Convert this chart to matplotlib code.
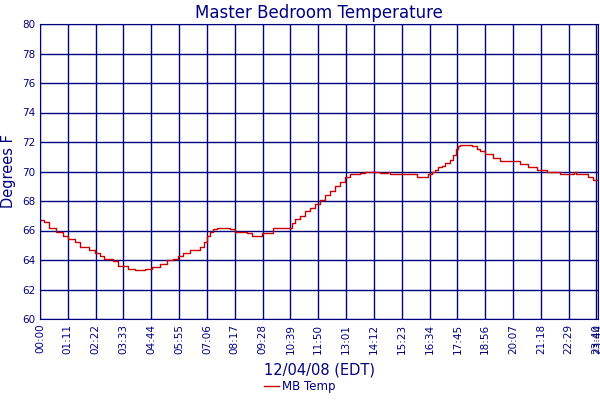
import matplotlib
matplotlib.use("Agg")
import matplotlib.pyplot as plt

minutes = [0,10,23,41,59,71,89,102,125,140,153,163,186,199,225,242,268,286,306,324,339,352,365,383,408,419,426,434,441,452,485,498,528,541,567,595,638,643,651,664,676,689,702,715,727,740,753,766,778,791,817,829,868,888,893,962,990,1000,1008,1016,1026,1034,1046,1054,1062,1067,1072,1102,1115,1123,1136,1156,1174,1225,1245,1268,1294,1327,1363,1368,1398,1411,1424]
temps = [66.7,66.6,66.2,65.9,65.6,65.4,65.2,64.9,64.7,64.5,64.3,64.1,63.9,63.6,63.4,63.3,63.4,63.5,63.7,64.0,64.1,64.3,64.5,64.7,64.9,65.2,65.6,65.9,66.1,66.2,66.1,65.9,65.8,65.6,65.8,66.2,66.2,66.5,66.8,67.0,67.3,67.5,67.8,68.1,68.4,68.7,69.0,69.3,69.6,69.8,69.9,70.0,69.9,70.0,69.8,69.6,69.8,70.0,70.1,70.3,70.4,70.6,70.8,71.1,71.5,71.7,71.8,71.7,71.5,71.4,71.2,70.9,70.7,70.5,70.3,70.1,70.0,69.8,70.0,69.8,69.6,69.4,69.4]
tick_minutes = [0,71,142,213,284,355,426,497,568,639,710,781,852,923,994,1065,1136,1207,1278,1349,1420,1424]
tick_labels = ["00:00","01:11","02:22","03:33","04:44","05:55","07:06","08:17","09:28","10:39","11:50","13:01","14:12","15:23","16:34","17:45","18:56","20:07","21:18","22:29","23:40","23:44"]

navy = "#000080"
fig = plt.figure(figsize=(6, 4), dpi=100)
ax = fig.add_axes([40/600, 1-319/400, 558/600, 295/400])
ax.step(minutes, temps, where="post", color="#cc0000", lw=1, label="MB Temp")
ax.set_xlim(0, 1424)
ax.set_ylim(60, 80)
ax.set_yticks(range(60, 81, 2))
ax.set_xticks(tick_minutes)
ax.set_xticklabels(tick_labels, rotation=90, fontsize=7.5, color=navy)
ax.tick_params(axis="y", labelsize=7.5, labelcolor=navy, length=0)
ax.tick_params(axis="x", length=0)
ax.grid(True, color=navy, lw=1)
for s in ax.spines.values():
    s.set_color(navy)
ax.set_title("Master Bedroom Temperature", color=navy, fontsize=12, pad=4)
ax.set_ylabel("Degrees F", color=navy, fontsize=10.5, labelpad=4)
ax.set_xlabel("12/04/08 (EDT)", color=navy, fontsize=10.5, labelpad=6)
fig.legend(loc="lower center", bbox_to_anchor=(0.5, -0.01), frameon=False, fontsize=8.5,
           labelcolor=navy, handlelength=1.2, handletextpad=0.3)
fig.savefig("out.png", dpi=100)
